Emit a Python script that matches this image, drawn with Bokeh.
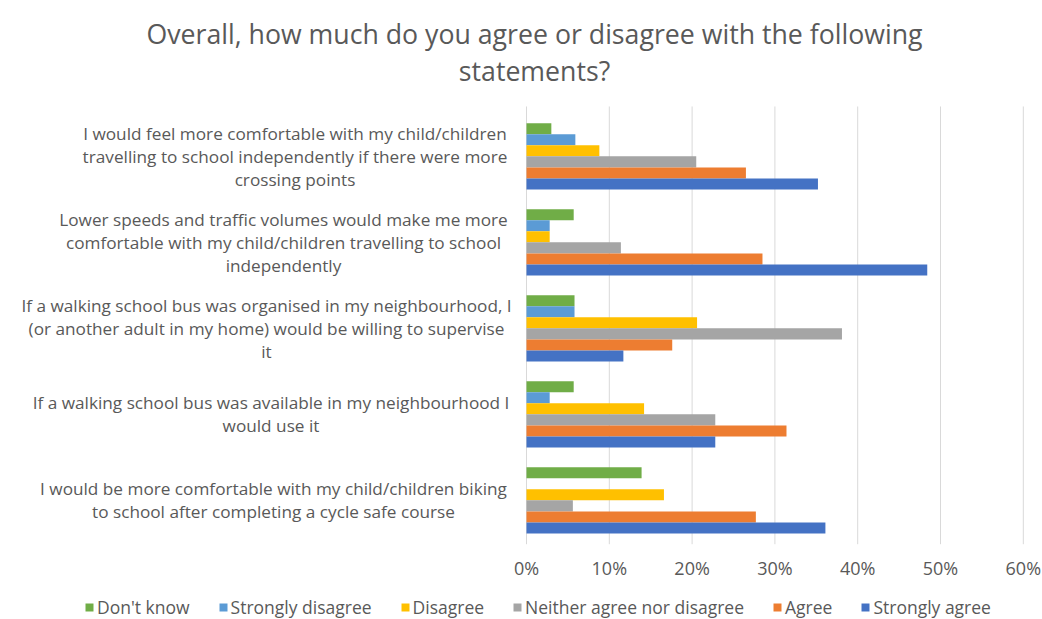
from bokeh.plotting import figure
from bokeh.models import Range1d, Legend, LegendItem, ColumnDataSource
from bokeh.core.properties import value
from bokeh.embed import file_html
from bokeh.resources import INLINE

# ---- data -------------------------------------------------------------
statement_lines = [
    "I would feel more comfortable with my child/children\ntravelling to school independently if there were more\ncrossing points",
    "Lower speeds and traffic volumes would make me more\ncomfortable with my child/children travelling to school\nindependently",
    "If a walking school bus was organised in my neighbourhood, I\n(or another adult in my home) would be willing to supervise\nit",
    "If a walking school bus was available in my neighbourhood I\nwould use it",
    "I would be more comfortable with my child/children biking\nto school after completing a cycle safe course",
]
series = ["Don't know", "Strongly disagree", "Disagree",
          "Neither agree nor disagree", "Agree", "Strongly agree"]
dont_know = [3.0, 5.7, 5.8, 5.7, 13.9]
strongly_disagree = [5.9, 2.8, 5.8, 2.8, 0.0]
disagree = [8.8, 2.8, 20.6, 14.2, 16.6]
neither = [20.5, 11.4, 38.1, 22.8, 5.6]
agree = [26.5, 28.5, 17.6, 31.4, 27.7]
strongly_agree = [35.2, 48.4, 11.7, 22.8, 36.1]
tick_values = [0, 0.1, 0.2, 0.3, 0.4, 0.5, 0.6]
tick_labels = ["0%", "10%", "20%", "30%", "40%", "50%", "60%"]

title_lines = ["Overall, how much do you agree or disagree with the following",
               "statements?"]

colors = ["#70AD47", "#5B9BD5", "#FFC000", "#A5A5A5", "#ED7D31", "#4472C4"]
values_by_series = [dont_know, strongly_disagree, disagree, neither, agree, strongly_agree]

FONT = "Open Sans"
GREY = "#595959"

n = len(statement_lines)
group_pos = list(range(n))          # category slots, top to bottom

X0_PX, PX_PER_UNIT = 526, 828       # screen position of 0 % and scale (layout)

# y runs downward: one unit per statement
p = figure(width=1042, height=619,
           x_range=Range1d(-X0_PX / PX_PER_UNIT, (1042 - X0_PX) / PX_PER_UNIT),
           y_range=Range1d(5.3855, -1.8122),
           output_backend="svg", toolbar_location=None,
           x_axis_location=None, y_axis_location=None,
           min_border=0)
p.outline_line_color = None
p.grid.grid_line_color = None
p.background_fill_color = "white"

# vertical grid lines over the category band
p.segment(x0=tick_values, x1=tick_values,
          y0=[-0.58] * len(tick_values), y1=[n - 0.49] * len(tick_values),
          line_color="#d9d9d9", line_width=1)

bar_h = 0.1285
renderers = []
for i, (name, vals, col) in enumerate(zip(series, values_by_series, colors)):
    src = ColumnDataSource(dict(y=[g + (i - 2.5) * bar_h for g in group_pos],
                                v=[x / 100 for x in vals]))
    r = p.hbar(y="y", left=0, right="v", height=bar_h,
               color=col, line_color=None, source=src)
    renderers.append(r)

# category labels: each wrapped block right-aligned to the axis, lines centred
label_block_centres_px = [294.5, 283, 266, 270.5, 273]
p.text(x=[(c - X0_PX) / PX_PER_UNIT for c in label_block_centres_px], y=group_pos,
       text=statement_lines,
       text_align="center", text_baseline="middle",
       text_font=value(FONT), text_font_size="17.2px",
       text_color=GREY, text_line_height=0.99)

# x tick labels
p.text(x=tick_values, y=[n - 0.5 + 0.29] * len(tick_values), text=tick_labels,
       text_align="center", text_baseline="middle",
       text_font=value(FONT), text_font_size="18px", text_color=GREY)

# title
p.text(x=[8 / PX_PER_UNIT] * 2, y=[-1.4285, -0.998], text=title_lines,
       text_align="center", text_baseline="middle",
       text_font=value(FONT), text_font_size="26.7px", text_color=GREY)

legend = Legend(items=[LegendItem(label=s, renderers=[r]) for s, r in zip(series, renderers)],
                orientation="horizontal", location=(84, 0),
                label_text_font=FONT, label_text_font_size="17.5px", label_text_color=GREY,
                glyph_width=10, glyph_height=10, label_standoff=3, spacing=28,
                padding=0, margin=0, border_line_color=None, background_fill_alpha=0)
p.add_layout(legend)

open("out.html", "w").write(file_html(p, INLINE))
